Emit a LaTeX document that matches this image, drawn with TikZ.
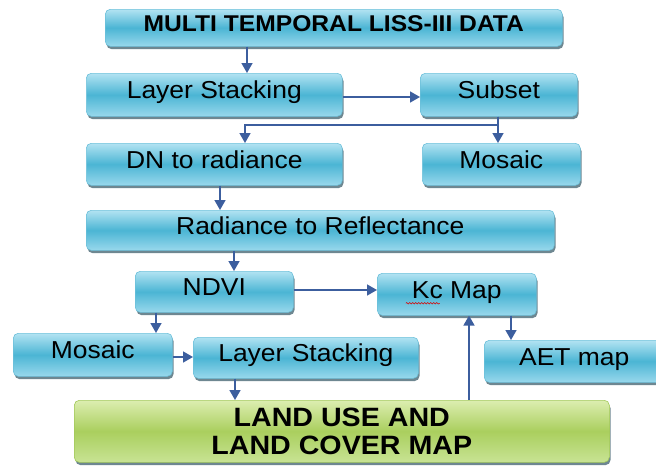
\documentclass[tikz,border=0pt]{standalone}
\usepackage{fontspec}
\setmainfont{Liberation Sans}[FakeStretch=1.08]
\usetikzlibrary{shadows,arrows.meta,decorations.pathmorphing}
\definecolor{btop}{HTML}{B2E3F2}
\definecolor{bmid}{HTML}{4BB5D4}
\definecolor{bbot}{HTML}{98D8EC}
\definecolor{bdraw}{HTML}{6CC0DA}
\definecolor{gtop}{HTML}{DCEEB0}
\definecolor{gmid}{HTML}{AACF5E}
\definecolor{gbot}{HTML}{C8E394}
\definecolor{gdraw}{HTML}{A2C85A}
\definecolor{shc}{HTML}{3E5F6C}
\definecolor{arrc}{HTML}{3C5E9E}
\begin{document}
\begin{tikzpicture}[x=1pt,y=-1pt,
  basebox/.style={rectangle, rounded corners=5pt, anchor=north west, inner sep=0pt,
    drop shadow={shadow xshift=1.2pt, shadow yshift=-2.8pt, fill=shc, opacity=0.75}},
  bluebox/.style={basebox, top color=btop, bottom color=bbot, middle color=bmid,
    draw=bdraw, line width=0.6pt, font=\fontsize{24.5}{28}\selectfont,
    text height=14pt, text depth=6pt},
  greenbox/.style={basebox, top color=gtop, bottom color=gbot, middle color=gmid,
    draw=gdraw, line width=0.6pt, font=\bfseries\fontsize{26.5}{28}\selectfont, align=center},
  arr/.style={draw=arrc, line width=1.6pt, -{Triangle[length=10pt,width=11pt]}, arrc}
]
\useasboundingbox (0,0) rectangle (656,466);
\clip (0,0) rectangle (656,466);

\node[bluebox, minimum width=457pt, minimum height=37pt, font=\bfseries\fontsize{22.8}{26}\selectfont] (top) at (105,9) {MULTI TEMPORAL LISS-III DATA};
\node[bluebox, minimum width=256pt, minimum height=43pt] (ls1) at (86,73) {Layer Stacking};
\node[bluebox, minimum width=157pt, minimum height=43pt] (sub) at (420,73) {Subset};
\node[bluebox, minimum width=256pt, minimum height=42pt] (dn) at (86,143) {DN to radiance};
\node[bluebox, minimum width=158pt, minimum height=42pt] (mosr) at (422,143) {Mosaic};
\node[bluebox, minimum width=468pt, minimum height=40pt] (rr) at (86,210) {Radiance to Reflectance};
\node[bluebox, minimum width=158pt, minimum height=41pt] (ndvi) at (135,271) {NDVI};
\node[bluebox, minimum width=159pt, minimum height=42pt] (kc) at (377,273) {Kc Map};
\node[bluebox, minimum width=159pt, minimum height=43pt] (mosl) at (13,333) {Mosaic};
\node[bluebox, minimum width=225pt, minimum height=41pt] (ls2) at (193,337) {Layer Stacking};
\node[bluebox, minimum width=180pt, minimum height=42pt] (aet) at (484,340) {AET map};
\node[greenbox, minimum width=535pt, minimum height=62pt] (land) at (74,400) {LAND USE AND\\LAND COVER MAP};

% spell-check squiggle under Kc
\draw[red!85!black, line width=0.5pt, decorate, decoration={snake, amplitude=0.8pt, segment length=3pt}]
  ([xshift=-51pt,yshift=-9pt]kc.center) -- ([xshift=-17pt,yshift=-9pt]kc.center);

% connectors
\draw[arr] ([xshift=142pt]top.south west) -- ([xshift=142pt]top.south west |- ls1.north);
\draw[arr] ([yshift=-24pt]ls1.north east) -- ([yshift=-24pt]ls1.north east -| sub.west);
\draw[arr] ([xshift=78pt]sub.south west) |- ([xshift=159pt,yshift=18pt]dn.north west) -- ([xshift=159pt]dn.north west);
\draw[arr] ([xshift=78pt]sub.south west) -- ([xshift=78pt]sub.south west |- mosr.north);
\draw[arr] ([xshift=134pt]dn.south west) -- ([xshift=134pt]dn.south west |- rr.north);
\draw[arr] ([xshift=148pt]rr.south west) -- ([xshift=148pt]rr.south west |- ndvi.north);
\draw[arr] ([yshift=-19pt]ndvi.north east) -- ([yshift=-19pt]ndvi.north east -| kc.west);
\draw[arr] ([xshift=21pt]ndvi.south west) -- ([xshift=21pt]ndvi.south west |- mosl.north);
\draw[arr] ([yshift=-24pt]mosl.north east) -- ([yshift=-24pt]mosl.north east -| ls2.west);
\draw[arr] ([xshift=134pt]kc.south west) -- ([xshift=134pt]kc.south west |- aet.north);
\draw[arr] ([xshift=42pt]ls2.south west) -- ([xshift=42pt]ls2.south west |- land.north);
\draw[arr] ([xshift=395pt]land.north west) -- ([xshift=395pt]land.north west |- kc.south);
\end{tikzpicture}
\end{document}
